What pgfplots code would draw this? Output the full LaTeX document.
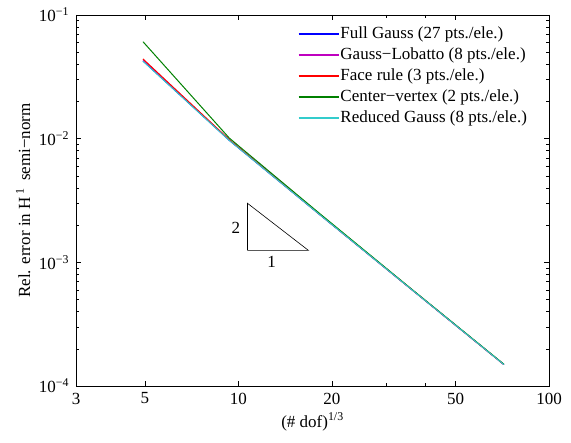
\documentclass[border=0pt]{standalone}
\usepackage{fontspec}
\setmainfont{Liberation Serif}
\usepackage{pgfplots}
\pgfplotsset{compat=1.18}

\definecolor{mgauss}{rgb}{0.75,0,0.75}
\definecolor{dgreen}{rgb}{0,0.5,0}
\definecolor{cyanr}{rgb}{0.2,0.8,0.8}
\newcommand{\mns}{{\char"2212}}

\begin{document}
\fontsize{17}{20}\selectfont
\begin{tikzpicture}
\begin{axis}[
  scale only axis,
  width=473pt, height=371pt,
  xmode=log, ymode=log,
  xmin=3, xmax=100, ymin=1e-4, ymax=1e-1,
  xtick={3,5,10,20,50,100},
  xticklabels={3,5,10,20,50,100},
  minor xtick={30,40},
  ytick={1e-4,1e-3,1e-2,1e-1},
  yticklabels={10\textsuperscript{\mns4},10\textsuperscript{\mns3},10\textsuperscript{\mns2},10\textsuperscript{\mns1}},
  minor ytick={2e-4,3e-4,4e-4,5e-4,6e-4,7e-4,8e-4,9e-4,
               2e-3,3e-3,4e-3,5e-3,6e-3,7e-3,8e-3,9e-3,
               2e-2,3e-2,4e-2,5e-2,6e-2,7e-2,8e-2,9e-2},
  tick align=inside,
  major tick length=5pt, minor tick length=3pt,
  every tick/.style={black, line width=0.5pt},
  axis line style={black, line width=0.8pt},
  tick label style={font=\fontsize{17}{20}\selectfont},
  yticklabel style={xshift=-1pt},
  xticklabel style={yshift=-1pt},
  xlabel={(\# dof)\textsuperscript{1/3}},
  ylabel={Rel. error in H\,\textsuperscript{1}\, semi\mns norm},
  label style={font=\fontsize{17}{20}\selectfont},
  xlabel style={yshift=3pt},
  ylabel style={yshift=-3pt},
  legend cell align=left,
  legend style={draw=none, fill=none, at={(0.469,0.975)}, anchor=north west,
    font=\fontsize{17}{20}\selectfont, inner sep=0pt, row sep=2pt,
    nodes={inner sep=1pt, text height=13pt, text depth=4pt}},
  legend image code/.code={\draw[line width=1.4pt,#1] (0pt,0pt) -- (40pt,0pt);},
]
\addplot[color=blue, line width=1pt] coordinates {
  (4.93,0.0425) (9.35,0.00968) (18.2,0.00245) (35.9,0.000610) (71.6,0.000149)};
\addlegendentry{Full Gauss (27 pts./ele.)}
\addplot[color=mgauss, line width=1pt] coordinates {
  (4.93,0.0435) (9.35,0.00975) (18.2,0.00246) (35.9,0.000611) (71.6,0.000149)};
\addlegendentry{Gauss\mns Lobatto (8 pts./ele.)}
\addplot[color=red, line width=1pt] coordinates {
  (4.93,0.0441) (9.35,0.00980) (18.2,0.00246) (35.9,0.000611) (71.6,0.000149)};
\addlegendentry{Face rule (3 pts./ele.)}
\addplot[color=dgreen, line width=1pt] coordinates {
  (4.93,0.0608) (9.35,0.0101) (18.2,0.00250) (35.9,0.000615) (71.6,0.000150)};
\addlegendentry{Center\mns vertex (2 pts./ele.)}
\addplot[color=cyanr, line width=1pt] coordinates {
  (4.93,0.0423) (9.35,0.00967) (18.2,0.00245) (35.9,0.000610) (71.6,0.000149)};
\addlegendentry{Reduced Gauss (8 pts./ele.)}
% slope-2 reference triangle
\addplot[black, line width=0.6pt, forget plot] coordinates {
  (10.7,1.25e-3) (16.8,1.25e-3) (10.7,3.0e-3) (10.7,1.25e-3)};
\node at (axis cs:9.82,1.9e-3) {2};
\node at (axis cs:12.8,1.0e-3) {1};
\end{axis}
\pgfresetboundingbox
\path[use as bounding box] (-76pt,-57pt) rectangle (495pt,386pt);
\end{tikzpicture}
\end{document}
